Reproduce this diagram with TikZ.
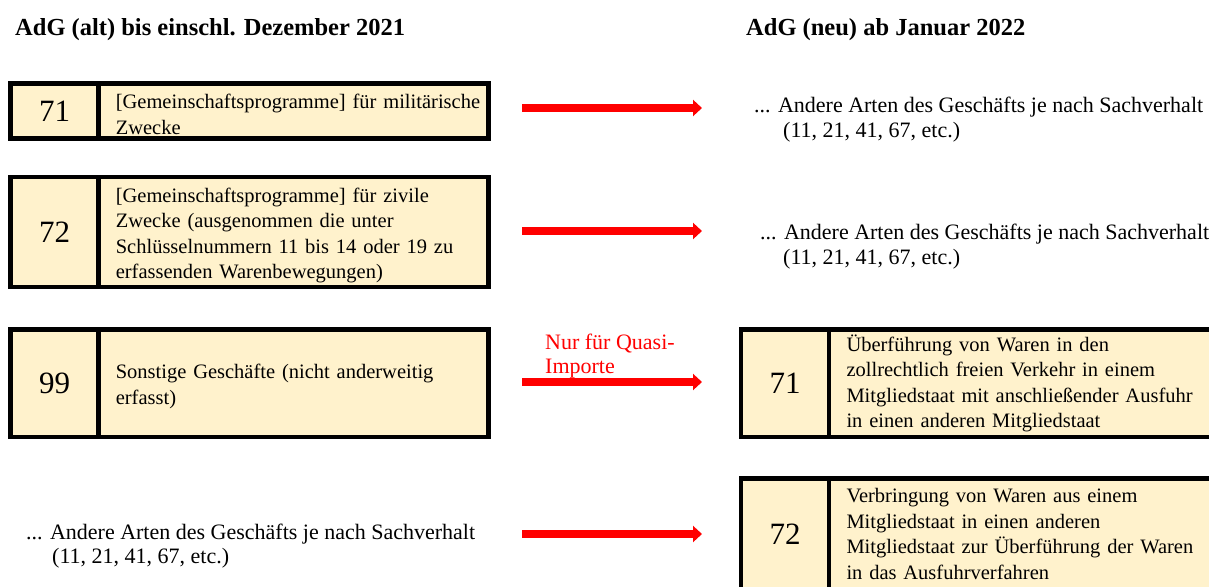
\documentclass[tikz,border=0pt]{standalone}
\usepackage{fontspec}
\setmainfont{Liberation Serif}
\usetikzlibrary{arrows.meta,positioning}
\definecolor{cream}{HTML}{FFF2CC}
\begin{document}
\begin{tikzpicture}[x=1pt,y=-1pt,>={Triangle[length=9pt,width=16pt]}]
\tikzstyle{num}=[draw,line width=4.5pt,fill=cream,outer sep=0pt,inner sep=0pt,minimum width=87.6pt,font=\fontsize{31}{31}\selectfont]
\tikzstyle{txt}=[draw,line width=4.5pt,fill=cream,outer sep=0pt,inner xsep=17.5pt,inner ysep=0pt,align=left,font=\fontsize{20.5}{25.5}\selectfont]
\tikzstyle{txtl}=[txt,text width=355pt,execute at begin node={\rule{0pt}{21pt}}]
\tikzstyle{plain}=[inner sep=0pt,anchor=base west,font=\fontsize{22}{25}\selectfont]
\tikzstyle{pfeil}=[->,red,line width=8pt]
\useasboundingbox (0,0) rectangle (1209,586);
\clip (0,0) rectangle (1209,586);
\node[plain,font=\bfseries\fontsize{24.5}{29}\selectfont] (alt) at (15,36) {AdG (alt) bis einschl. Dezember 2021};
\node[plain,font=\bfseries\fontsize{24.5}{29}\selectfont] (neu) at (746,36) {AdG (neu) ab Januar 2022};
\node[num,minimum height=55.4pt] (a71) at (54.5,111) {71}; \node[txtl,minimum height=55.4pt,right=0pt of a71] (a71t) {\mbox{[Gemeinschaftsprogramme] für militärische}\\Zwecke};
\node[num,minimum height=110pt] (a72) at (54.5,232) {72}; \node[txtl,minimum height=110pt,right=0pt of a72] (a72t) {[Gemeinschaftsprogramme] für zivile\\Zwecke (ausgenommen die unter\\Schlüsselnummern 11 bis 14 oder 19 zu\\erfassenden Warenbewegungen)};
\node[num,minimum height=107.5pt] (a99) at (54.5,383.3) {99}; \node[txtl,minimum height=107.5pt,right=0pt of a99] (a99t) {Sonstige Geschäfte (nicht anderweitig\\erfasst)};
\node[plain] (alt4) at (26,539) {... Andere Arten des Geschäfts je nach Sachverhalt}; \node[plain] (alt4b) at (52,563) {(11, 21, 41, 67, etc.)};
\node[plain] (neu1) at (754,112.5) {... Andere Arten des Geschäfts je nach Sachverhalt}; \node[plain] (neu1b) at (783,137) {(11, 21, 41, 67, etc.)};
\node[plain] (neu2) at (760,239.5) {... Andere Arten des Geschäfts je nach Sachverhalt}; \node[plain] (neu2b) at (783,264) {(11, 21, 41, 67, etc.)};
\node[num,minimum height=107.5pt,minimum width=88pt] (n71) at (785,383.3) {71}; \node[txt,minimum height=107.5pt,text width=352pt,right=0pt of n71] (n71t) {Überführung von Waren in den\\zollrechtlich freien Verkehr in einem\\Mitgliedstaat mit anschließender Ausfuhr\\in einen anderen Mitgliedstaat};
\node[num,minimum height=110.6pt,minimum width=88pt] (n72) at (785,534) {72}; \node[txt,minimum height=110.6pt,text width=352pt,right=0pt of n72] (n72t) {Verbringung von Waren aus einem\\Mitgliedstaat in einen anderen\\Mitgliedstaat zur Überführung der Waren\\in das Ausfuhrverfahren};
\node[plain,red,font=\fontsize{22}{25}\selectfont] (quasi) at (545,349) {Nur für Quasi-}; \node[plain,red,font=\fontsize{22}{25}\selectfont] (quasib) at (545,373) {Importe};
\coordinate (p1) at (522,108); \coordinate (q1) at (702,108); \coordinate (p2) at (522,231); \coordinate (q2) at (702,231);
\coordinate (p3) at (522,382); \coordinate (q3) at (702,382); \coordinate (p4) at (522,534); \coordinate (q4) at (702,534);
\draw[pfeil] (p1) -- (q1); \draw[pfeil] (p2) -- (q2); \draw[pfeil] (p3) -- (q3); \draw[pfeil] (p4) -- (q4);
\end{tikzpicture}
\end{document}
